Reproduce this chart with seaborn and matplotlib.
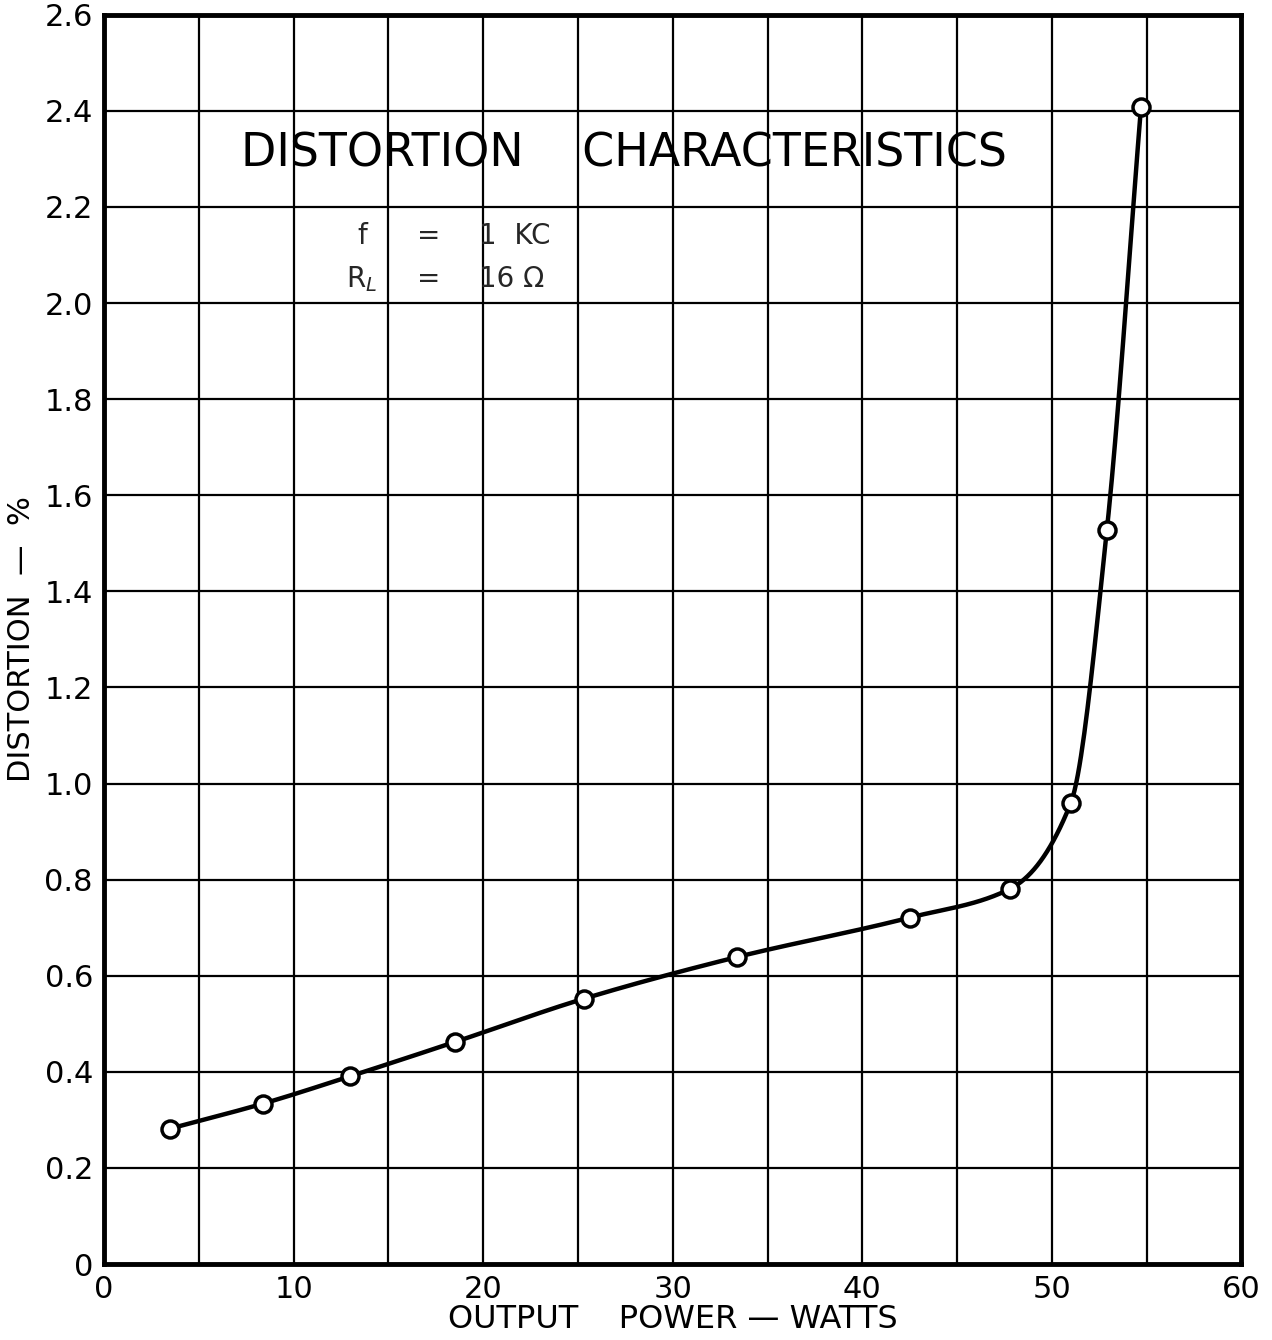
import numpy as np
import matplotlib
matplotlib.use("Agg")
import matplotlib.pyplot as plt
import seaborn as sns

power_watts = [3.5, 8.4, 13.0, 18.5, 25.3, 33.4, 42.5, 47.8, 51.0, 52.9, 54.7]
distortion_pct = [0.282, 0.334, 0.391, 0.462, 0.552, 0.639, 0.721, 0.781, 0.960, 1.528, 2.408]

x_ticks = [0, 10, 20, 30, 40, 50, 60]
y_ticks = [0, 0.2, 0.4, 0.6, 0.8, 1.0, 1.2, 1.4, 1.6, 1.8, 2.0, 2.2, 2.4, 2.6]
y_tick_labels = ["0", "0.2", "0.4", "0.6", "0.8", "1.0", "1.2", "1.4", "1.6", "1.8",
                 "2.0", "2.2", "2.4", "2.6"]


def pchip(x, y, xs):
    """monotone cubic curve through the points, for drawing only"""
    x = np.asarray(x, float)
    y = np.asarray(y, float)
    h = np.diff(x)
    d = np.diff(y) / h
    n = len(x)
    m = np.zeros(n)
    for k in range(1, n - 1):
        if d[k - 1] * d[k] > 0:
            w1 = 2 * h[k] + h[k - 1]
            w2 = h[k] + 2 * h[k - 1]
            m[k] = (w1 + w2) / (w1 / d[k - 1] + w2 / d[k])
    m[0] = d[0]
    m[-1] = d[-1]
    idx = np.clip(np.searchsorted(x, xs) - 1, 0, n - 2)
    t = (xs - x[idx]) / h[idx]
    h00 = 2 * t**3 - 3 * t**2 + 1
    h10 = t**3 - 2 * t**2 + t
    h01 = -2 * t**3 + 3 * t**2
    h11 = t**3 - t**2
    return h00 * y[idx] + h10 * h[idx] * m[idx] + h01 * y[idx + 1] + h11 * h[idx] * m[idx + 1]


sns.set_theme(style="white")
plt.rcParams['font.family'] = ['DejaVu Sans']

fig = plt.figure(figsize=(12.72, 13.40), dpi=100)
ax = fig.add_axes([0.0818, 0.0567, 0.8942, 0.9323])

# grid every 5 W and every 0.2 %
for gx in np.arange(5, 60, 5):
    ax.axvline(gx, color="black", lw=1.6, zorder=1)
for gy in np.arange(0.2, 2.6, 0.2):
    ax.axhline(gy, color="black", lw=1.6, zorder=1)

xs = np.linspace(power_watts[0], power_watts[-1], 600)
sns.lineplot(x=xs, y=pchip(power_watts, distortion_pct, xs), ax=ax,
             color="black", lw=3.2, zorder=3)
sns.scatterplot(x=power_watts, y=distortion_pct, ax=ax, s=150,
                facecolor="white", edgecolor="black", linewidth=2.5, zorder=4)

ax.set_xlim(0, 60)
ax.set_ylim(0, 2.6)
ax.set_xticks(x_ticks)
ax.set_yticks(y_ticks)
ax.set_yticklabels(y_tick_labels)
ax.tick_params(axis="both", length=0, labelsize=22, colors="black")
ax.tick_params(axis="x", pad=8)
ax.tick_params(axis="y", pad=8)
for sp in ax.spines.values():
    sp.set_color("black")
    sp.set_linewidth(3.5)

ax.set_xlabel("OUTPUT    POWER \u2014 WATTS", fontsize=23, color="black", labelpad=0)
ax.set_ylabel("DISTORTION  \u2014  %", fontsize=22, color="black", labelpad=6)

ax.text(27.4, 2.31, "DISTORTION    CHARACTERISTICS", ha="center", va="center",
        fontsize=33, color="black", zorder=5)
ax.text(13.6, 2.14, "f", ha="center", va="center", fontsize=20, zorder=5)
ax.text(17.1, 2.14, "=", ha="center", va="center", fontsize=20, zorder=5)
ax.text(19.8, 2.14, "1  KC", ha="left", va="center", fontsize=20, zorder=5)
ax.text(13.6, 2.05, "R$_L$", ha="center", va="center", fontsize=20, zorder=5)
ax.text(17.1, 2.05, "=", ha="center", va="center", fontsize=20, zorder=5)
ax.text(19.8, 2.05, "16 \u03a9", ha="left", va="center", fontsize=20, zorder=5)

fig.savefig("out.png", dpi=100, facecolor="white")
plt.close(fig)
